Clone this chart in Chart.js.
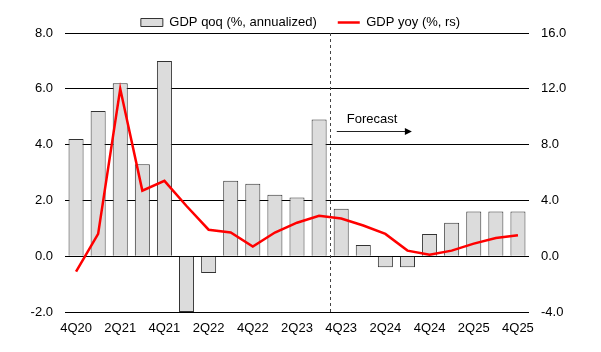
<script src="https://cdn.jsdelivr.net/npm/chart.js"></script>

<style>
  body { margin: 0; background: #fff; }
  #wrap { width: 601px; height: 352px; }
</style>

<div id="wrap"><canvas id="myChart" width="601" height="352"></canvas></div>

<script>
  const quarters = ['4Q20', '1Q21', '2Q21', '3Q21', '4Q21', '1Q22', '2Q22', '3Q22', '4Q22', '1Q23', '2Q23',
    '3Q23', '4Q23', '1Q24', '2Q24', '3Q24', '4Q24', '1Q25', '2Q25', '3Q25', '4Q25'];
  const gdpQoq = [4.2, 5.2, 6.2, 3.3, 7.0, -2.0, -0.6, 2.7, 2.6, 2.2, 2.1,
    4.9, 1.7, 0.4, -0.4, -0.4, 0.8, 1.2, 1.6, 1.6, 1.6];
  const gdpYoy = [-1.1, 1.6, 12.0, 4.7, 5.4, 3.6, 1.9, 1.7, 0.7, 1.7, 2.4,
    2.9, 2.7, 2.2, 1.6, 0.4, 0.1, 0.4, 0.9, 1.3, 1.5];
  const leftTicks = [-2, 0, 2, 4, 6, 8];
  const rightTicks = [-4, 0, 4, 8, 12, 16];
  const forecastAfter = '3Q23';

  const font = "'Liberation Sans', Arial, sans-serif";

  // dashed divider + "Forecast" arrow
  const forecastPlugin = {
    id: 'forecast',
    afterDatasetsDraw(chart) {
      const ctx = chart.ctx;
      const x = chart.scales.x, y = chart.scales.y;
      const area = chart.chartArea;
      const idx = quarters.indexOf(forecastAfter);
      const xd = Math.round(x.getPixelForValue(idx + 0.5)) + 0.5;

      ctx.save();
      ctx.strokeStyle = '#444';
      ctx.lineWidth = 1;
      ctx.setLineDash([3, 3]);
      ctx.beginPath();
      ctx.moveTo(xd, area.top);
      ctx.lineTo(xd, area.bottom);
      ctx.stroke();
      ctx.setLineDash([]);

      ctx.fillStyle = '#000';
      ctx.font = '13px ' + font;
      ctx.textBaseline = 'middle';
      ctx.textAlign = 'left';
      ctx.fillText('Forecast', x.getPixelForValue(idx + 1.25), y.getPixelForValue(4.9));

      const ay = Math.round(y.getPixelForValue(4.5)) + 0.5;
      const ax0 = x.getPixelForValue(idx + 0.8);
      const ax1 = x.getPixelForValue(idx + 4.2);
      ctx.strokeStyle = '#222';
      ctx.beginPath();
      ctx.moveTo(ax0, ay);
      ctx.lineTo(ax1 - 6, ay);
      ctx.stroke();
      ctx.fillStyle = '#000';
      ctx.beginPath();
      ctx.moveTo(ax1, ay);
      ctx.lineTo(ax1 - 7, ay - 3.5);
      ctx.lineTo(ax1 - 7, ay + 3.5);
      ctx.closePath();
      ctx.fill();
      ctx.restore();
    }
  };

  var ctx = document.getElementById('myChart').getContext('2d');
  var myChart = new Chart(ctx, {
    data: {
      labels: quarters,
      datasets: [{
        type: 'line',
        label: 'GDP yoy (%, rs)',
        data: gdpYoy,
        yAxisID: 'y1',
        borderColor: '#ff0000',
        backgroundColor: '#ff0000',
        borderWidth: 2.5,
        pointRadius: 0,
        tension: 0,
        order: 0
      }, {
        type: 'bar',
        label: 'GDP qoq (%, annualized)',
        data: gdpQoq,
        yAxisID: 'y',
        backgroundColor: '#dcdcdc',
        borderColor: '#333333',
        borderWidth: 1,
        categoryPercentage: 1,
        barPercentage: 0.68,
        order: 1
      }]
    },
    options: {
      responsive: false,
      animation: false,
      layout: { padding: { top: -5, bottom: 0, left: 0, right: 0 } },
      plugins: {
        legend: {
          display: true,
          position: 'top',
          reverse: true,
          maxHeight: 38,
          labels: {
            color: '#000',
            font: { family: font, size: 13 },
            usePointStyle: true,
            pointStyleWidth: 22,
            boxHeight: 8,
            padding: 21,
            generateLabels(chart) {
              const items = Chart.defaults.plugins.legend.labels.generateLabels(chart);
              items.forEach(it => {
                const ds = chart.data.datasets[it.datasetIndex];
                if (ds.type === 'line') {
                  it.pointStyle = 'line';
                  it.strokeStyle = '#ff0000';
                  it.lineWidth = 2.5;
                } else {
                  it.pointStyle = 'rect';
                  it.fillStyle = '#dcdcdc';
                  it.strokeStyle = '#333333';
                  it.lineWidth = 1;
                }
              });
              return items;
            }
          }
        },
        tooltip: { enabled: false }
      },
      scales: {
        x: {
          offset: true,
          grid: { display: false, drawTicks: false },
          border: { display: false },
          ticks: {
            autoSkip: false,
            maxRotation: 0,
            padding: 9,
            color: '#000',
            font: { family: font, size: 13 },
            callback: (v, i) => (i % 2 === 0 ? quarters[i] : '')
          },
          afterFit(s) { s.height = 40; }
        },
        y: {
          position: 'left',
          min: -2,
          max: 8,
          afterBuildTicks(s) { s.ticks = leftTicks.map(v => ({ value: v })); },
          grid: { color: '#000', lineWidth: 1, drawTicks: false },
          border: { display: false },
          ticks: {
            padding: 12,
            color: '#000',
            font: { family: font, size: 13 },
            callback: v => v.toFixed(1)
          },
          afterFit(s) { s.width = 65; }
        },
        y1: {
          position: 'right',
          min: -4,
          max: 16,
          afterBuildTicks(s) { s.ticks = rightTicks.map(v => ({ value: v })); },
          grid: { display: false, drawTicks: false },
          border: { display: false },
          ticks: {
            padding: 12,
            color: '#000',
            font: { family: font, size: 13 },
            callback: v => v.toFixed(1)
          },
          afterFit(s) { s.width = 72; }
        }
      }
    },
    plugins: [forecastPlugin]
  });
</script>
